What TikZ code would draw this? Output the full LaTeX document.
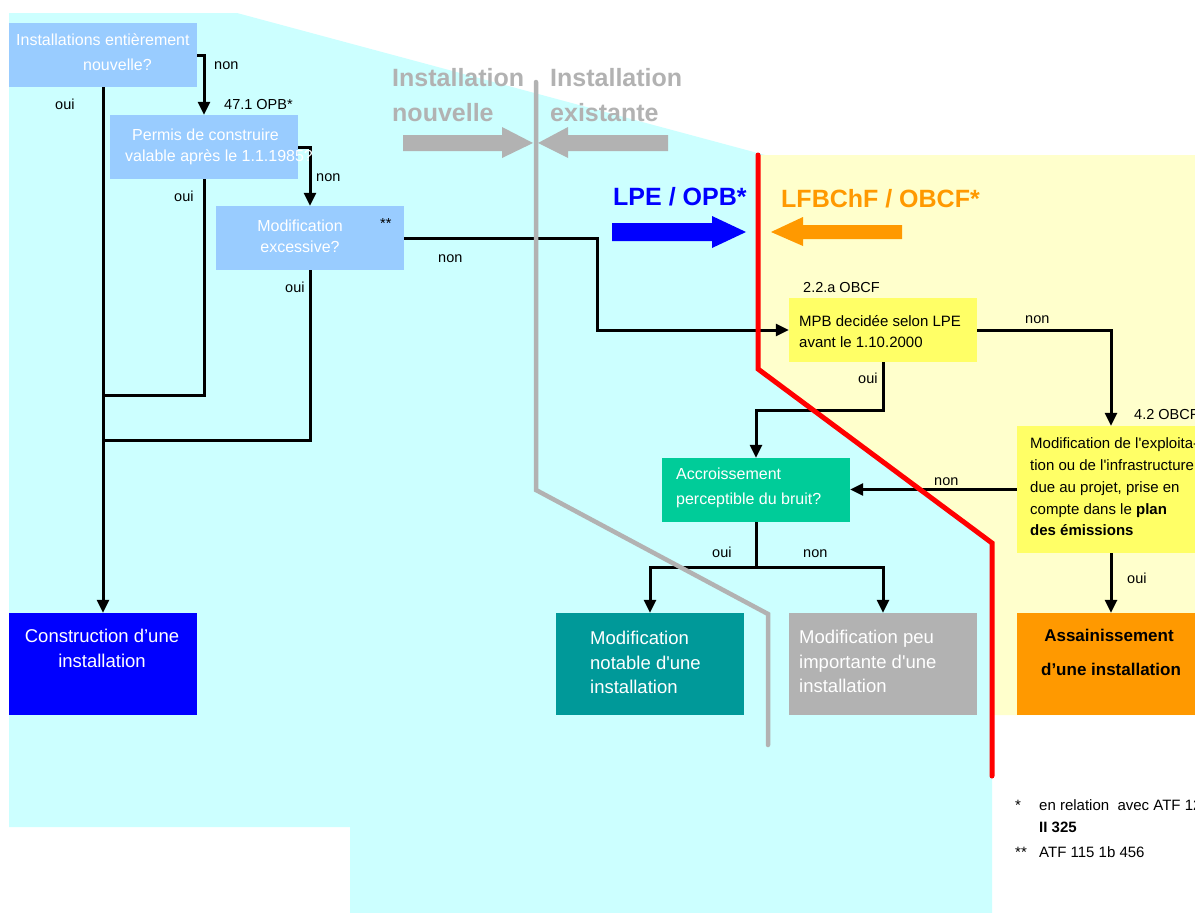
\documentclass[tikz,border=0pt]{standalone}
\usepackage{fontspec}
\setmainfont{Liberation Sans}
\usetikzlibrary{arrows.meta}
\definecolor{bgcyan}{HTML}{CCFFFF}
\definecolor{bgyellow}{HTML}{FFFFCC}
\definecolor{qblue}{HTML}{99CCFF}
\definecolor{qyellow}{HTML}{FFFF66}
\definecolor{qgreen}{HTML}{00CC99}
\definecolor{rteal}{HTML}{009999}
\definecolor{rgray}{HTML}{B2B2B2}
\definecolor{rblue}{HTML}{0000FF}
\definecolor{rorange}{HTML}{FF9900}
\definecolor{rred}{HTML}{FF0000}
\newcommand\fsz[1]{\fontsize{#1}{#1}\selectfont}
\begin{document}
\begin{tikzpicture}[x=1pt,y=-1pt,
  box/.style={rectangle,draw=none,inner sep=0pt,minimum width=188pt,minimum height=64pt},
  tallbox/.style={box,minimum height=102pt},
  txt/.style={inner sep=0pt,anchor=base west},
  ctxt/.style={inner sep=0pt,anchor=base},
  lab/.style={txt,font=\fsz{14.5}},
  qtext/.style={font=\fsz{16},white},
  rtext/.style={font=\fsz{18.5},white},
  ytext/.style={font=\fsz{15},black},
  big/.style={txt,font=\bfseries\fsz{25}},
  conn/.style={line width=3pt,black},
  arr/.style={conn,-{Triangle[length=13pt,width=12pt]}},
  border/.style={line width=4.5pt,line cap=round,line join=miter}
]
\useasboundingbox (0,0) rectangle (1195,913);
\fill[white] (0,0) rectangle (1195,913);
% backgrounds
\fill[bgcyan] (9,13) -- (237,13) -- (765,155) -- (992,155) -- (992,913) -- (350,913) -- (350,827) -- (9,827) -- cycle;
\fill[bgyellow] (760,155) -- (1195,155) -- (1195,715) -- (992,715) -- (992,543) -- (760,370) -- cycle;

% boxes
\node[box,fill=qblue] (b1) at (103,55) {};
\node[box,fill=qblue] (b2) at (204,147) {};
\node[box,fill=qblue] (b3) at (310,238) {};
\node[box,fill=qyellow] (b4) at (883,330) {};
\node[box,fill=qyellow,minimum height=127pt] (b5) at (1111,489.5) {};
\node[box,fill=qgreen] (b6) at (756,490) {};
\node[tallbox,fill=rblue] (b7) at (103,664) {};
\node[tallbox,fill=rteal] (b8) at (650,664) {};
\node[tallbox,fill=rgray] (b9) at (883,664) {};
\node[tallbox,fill=rorange] (b10) at (1111,664) {};

% connectors
\coordinate (j1) at (103,395);
\coordinate (j2) at (103,440);
\coordinate (k1) at (597,238);
\coordinate (k2) at (756,410);
\coordinate (k3) at (756,567);
\draw[arr] (b1.east) -| (b2.north);
\draw[arr] (b1.south) -- (b7.north);
\draw[arr] (b2.east) -| (b3.north);
\draw[conn] (b2.south) |- (j1);
\draw[conn] (b3.south) |- (j2);
\draw[arr] (b3.east) -- (k1) |- (b4.west);
\draw[arr] (b4.east) -| (b5.north);
\draw[arr] (b4.south) |- (k2) -- (b6.north);
\draw[arr] (b5.west) -- (b5.west -| b6.east);
\draw[arr] (b5.south) -- (b10.north);
\draw[conn] (b6.south) -- (k3);
\draw[arr] (k3) -| (b8.north);
\draw[arr] (k3) -| (b9.north);

% box texts
\node[txt,qtext] (t1a) at (16,45) {Installations entièrement};
\node[txt,qtext] (t1b) at (83,70) {nouvelle?};
\node[txt,qtext] (t2a) at (132,140) {Permis de construire};
\node[txt,qtext] (t2b) at (125,161) {valable après le 1.1.1985?};
\node[ctxt,qtext] (t3a) at (300,231) {Modification};
\node[ctxt,qtext] (t3b) at (300,252) {excessive?};
\node[txt,ytext] (t4a) at (799,326) {MPB decidée selon LPE};
\node[txt,ytext] (t4b) at (799,347) {avant le 1.10.2000};
\node[txt,ytext] (t5a) at (1030,448) {Modification de l\textquotesingle exploita-};
\node[txt,ytext] (t5b) at (1030,470) {tion ou de l\textquotesingle infrastructure};
\node[txt,ytext] (t5c) at (1030,492) {due au projet, prise en};
\node[txt,ytext] (t5d) at (1030,514) {compte dans le \textbf{plan}};
\node[txt,ytext] (t5e) at (1030,535) {\textbf{des émissions}};
\node[txt,qtext] (t6a) at (676,479) {Accroissement};
\node[txt,qtext] (t6b) at (676,504) {perceptible du bruit?};
\node[ctxt,rtext] (t7a) at (102,642) {Construction d'une};
\node[ctxt,rtext] (t7b) at (102,667) {installation};
\node[txt,rtext] (t8a) at (590,644) {Modification};
\node[txt,rtext] (t8b) at (590,669) {notable d\textquotesingle une};
\node[txt,rtext] (t8c) at (590,693) {installation};
\node[txt,rtext] (t9a) at (799,643) {Modification peu};
\node[txt,rtext] (t9b) at (799,668) {importante d\textquotesingle une};
\node[txt,rtext] (t9c) at (799,692) {installation};
\node[ctxt,font=\bfseries\fsz{17}] (t10a) at (1109,641) {Assainissement};
\node[ctxt,font=\bfseries\fsz{17}] (t10b) at (1111,675) {d'une installation};

% connector labels
\node[lab] (l1) at (214,69) {non};
\node[lab] (l2) at (55,109) {oui};
\node[lab] (l3) at (224,109) {47.1 OPB*};
\node[lab] (l4) at (316,181) {non};
\node[lab] (l5) at (174,201) {oui};
\node[lab] (l6) at (285,292) {oui};
\node[lab] (l7) at (380,228) {**};
\node[lab] (l8) at (438,262) {non};
\node[lab] (l9) at (803,292) {2.2.a OBCF};
\node[lab] (l10) at (1025,323) {non};
\node[lab] (l11) at (858,383) {oui};
\node[lab] (l12) at (1134,419) {4.2 OBCF};
\node[lab] (l13) at (934,485) {non};
\node[lab] (l14) at (1127,583) {oui};
\node[lab] (l15) at (712,557) {oui};
\node[lab] (l16) at (803,557) {non};

% big headings
\node[big,rgray] (h1) at (392,86) {Installation};
\node[big,rgray] (h2) at (392,121) {nouvelle};
\node[big,rgray] (h3) at (550,86) {Installation};
\node[big,rgray] (h4) at (550,121) {existante};
\node[big,rblue] (h5) at (613,205) {LPE / OPB*};
\node[big,rorange] (h6) at (781,207) {LFBChF / OBCF*};

% thick arrows
\fill[rgray] (403,135) -- (502,135) -- (502,127) -- (533,143) -- (502,158) -- (502,151) -- (403,151) -- cycle;
\fill[rgray] (668,135) -- (568,135) -- (568,127) -- (538,143) -- (568,158) -- (568,151) -- (668,151) -- cycle;
\fill[rblue] (612,223) -- (712,223) -- (712,216) -- (746,232) -- (712,248) -- (712,241) -- (612,241) -- cycle;
\fill[rorange] (902,225) -- (803,225) -- (803,217) -- (771,232) -- (803,246) -- (803,239) -- (902,239) -- cycle;

% dividing lines
\draw[border,rgray] (536,82) -- (536,490) -- (768,614) -- (768,745);
\draw[border,rred,line width=5pt] (758,155) -- (758,369) -- (992,543) -- (992,776);

% footnotes
\node[txt,font=\fsz{15}] (f1) at (1015,810) {*};
\node[txt,font=\fsz{15}] (f2) at (1039,810) {en relation\ \ avec ATF 123};
\node[txt,font=\bfseries\fsz{15}] (f3) at (1039,832) {II 325};
\node[txt,font=\fsz{15}] (f4) at (1015,857) {**};
\node[txt,font=\fsz{15}] (f5) at (1039,857) {ATF 115 1b 456};
\end{tikzpicture}
\end{document}
